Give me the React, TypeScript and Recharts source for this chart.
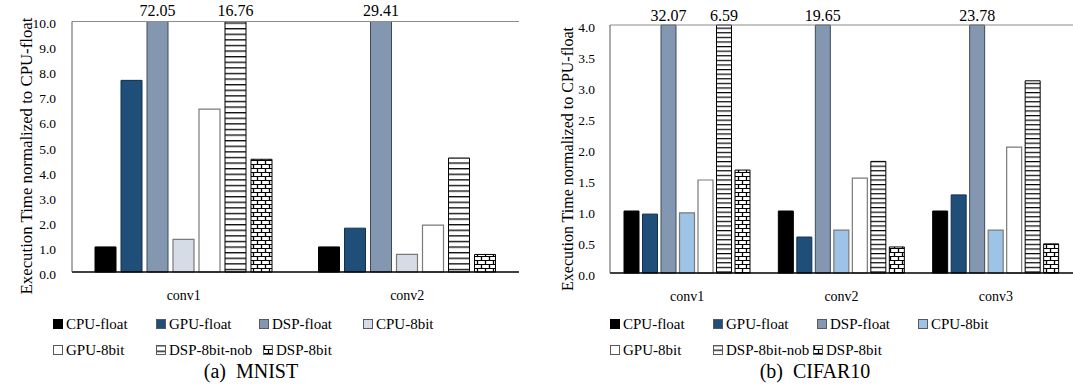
import React from 'react';
import { BarChart, Bar, XAxis, YAxis, LabelList, ReferenceLine } from 'recharts';

// ---------- data ----------
const mnistCategories = ['conv1', 'conv2'];
const mnistCpuFloat = [1.0, 1.0];
const mnistGpuFloat = [7.65, 1.75];
const mnistDspFloat = [72.05, 29.41];
const mnistCpu8 = [1.3, 0.7];
const mnistGpu8 = [6.5, 1.87];
const mnistDspNob = [16.76, 4.55];
const mnistDsp8 = [4.5, 0.7];
const mnistTicks = [0, 1, 2, 3, 4, 5, 6, 7, 8, 9, 10];

const cifarCategories = ['conv1', 'conv2', 'conv3'];
const cifarCpuFloat = [1.0, 1.0, 1.0];
const cifarGpuFloat = [0.95, 0.58, 1.26];
const cifarDspFloat = [32.07, 19.65, 23.78];
const cifarCpu8 = [0.97, 0.69, 0.69];
const cifarGpu8 = [1.5, 1.53, 2.03];
const cifarDspNob = [6.59, 1.8, 3.1];
const cifarDsp8 = [1.66, 0.42, 0.47];
const cifarTicks = [0, 0.5, 1, 1.5, 2, 2.5, 3, 3.5, 4];

const seriesNames = ['CPU-float', 'GPU-float', 'DSP-float', 'CPU-8bit', 'GPU-8bit', 'DSP-8bit-nob', 'DSP-8bit'];
const seriesKeys = ['cpuFloat', 'gpuFloat', 'dspFloat', 'cpu8', 'gpu8', 'dspNob', 'dsp8'];

const FONT = "'Liberation Serif', 'Times New Roman', serif";

type SeriesStyle = { fill: string; stroke: string; sw: number };

const mnistStyles: SeriesStyle[] = [
  { fill: '#000000', stroke: '#000000', sw: 1 },
  { fill: '#1f4e79', stroke: '#10304d', sw: 1 },
  { fill: '#8497b0', stroke: '#3f4a58', sw: 1 },
  { fill: '#d6dce5', stroke: '#7a7a7a', sw: 1.2 },
  { fill: '#ffffff', stroke: '#7a7a7a', sw: 1.2 },
  { fill: 'url(#nobA)', stroke: '#000000', sw: 1 },
  { fill: 'url(#brickA)', stroke: '#000000', sw: 1 },
];
const cifarStyles: SeriesStyle[] = [
  { fill: '#000000', stroke: '#000000', sw: 1 },
  { fill: '#1f4e79', stroke: '#10304d', sw: 1 },
  { fill: '#8497b0', stroke: '#3f4a58', sw: 1 },
  { fill: '#9dc3e6', stroke: '#7a7a7a', sw: 1.2 },
  { fill: '#ffffff', stroke: '#7a7a7a', sw: 1.2 },
  { fill: 'url(#nobB)', stroke: '#000000', sw: 1 },
  { fill: 'url(#brickB)', stroke: '#000000', sw: 1 },
];

function buildRows(categories: string[], cols: number[][], max: number) {
  return categories.map((c, i) => {
    const row: Record<string, any> = { name: c };
    seriesKeys.forEach((k, j) => {
      row[k] = cols[j][i];
      row[k + 'Shown'] = Math.min(cols[j][i], max);
    });
    return row;
  });
}

const mnistRows = buildRows(
  mnistCategories,
  [mnistCpuFloat, mnistGpuFloat, mnistDspFloat, mnistCpu8, mnistGpu8, mnistDspNob, mnistDsp8],
  10
);
const cifarRows = buildRows(
  cifarCategories,
  [cifarCpuFloat, cifarGpuFloat, cifarDspFloat, cifarCpu8, cifarGpu8, cifarDspNob, cifarDsp8],
  4
);

type PanelProps = {
  left: number;
  width: number;
  height: number;
  rows: Record<string, any>[];
  styles: SeriesStyle[];
  max: number;
  ticks: number[];
  margin: { top: number; right: number; bottom: number; left: number };
  yWidth: number;
  barSize: number;
  barGap: number;
  titleX: number;
  titleY: number;
  titleSize: number;
  labelGap: number;
  tickMargin: number;
  rightBorder: boolean;
  legendX: number[][];
  caption: string;
  captionX: number;
};

const textStyle = { fontFamily: FONT };

function Panel(p: PanelProps) {
  const renderValueLabel = (props: any) => {
    const { x, y, width, value } = props;
    if (value == null || value <= p.max) return null;
    return (
      <text
        x={Number(x) + Number(width) / 2}
        y={Number(y) - p.labelGap}
        textAnchor="middle"
        style={{ fontFamily: FONT, fontSize: 16 }}
        fill="#000"
      >
        {Number(value).toFixed(2)}
      </text>
    );
  };
  const renderTitle = () => (
    <text
      x={p.titleX}
      y={p.titleY}
      transform={`rotate(-90, ${p.titleX}, ${p.titleY})`}
      textAnchor="middle"
      style={{ fontFamily: FONT, fontSize: p.titleSize }}
      fill="#000"
    >
      Execution Time normalized to CPU-float
    </text>
  );
  return (
    <div style={{ position: 'absolute', left: p.left, top: 0, width: p.width, height: 389, fontFamily: FONT }}>
      <BarChart
        width={p.width}
        height={p.height}
        data={p.rows}
        margin={p.margin}
        barSize={p.barSize}
        barGap={p.barGap}
        style={{ fontFamily: FONT }}
      >
        <XAxis
          dataKey="name"
          tickLine={false}
          tickSize={0}
          tickMargin={18}
          height={30}
          axisLine={{ stroke: '#000', strokeWidth: 1.5 }}
          tick={{ fontSize: 14, fill: '#000', style: textStyle }}
        />
        <YAxis
          domain={[0, p.max]}
          ticks={p.ticks}
          interval={0}
          width={p.yWidth}
          tickLine={false}
          tickSize={0}
          tickMargin={p.tickMargin}
          tickFormatter={(v: number) => v.toFixed(1)}
          axisLine={{ stroke: '#595959', strokeWidth: 1 }}
          tick={{ fontSize: 13.5, fill: '#000', dy: 2, style: textStyle }}
          label={renderTitle}
        />
        {p.rightBorder && (
          <YAxis
            yAxisId="r"
            orientation="right"
            domain={[0, p.max]}
            width={0}
            tick={false}
            tickLine={false}
            axisLine={{ stroke: '#8c8c8c', strokeWidth: 1 }}
          />
        )}
        {seriesKeys.map((k, j) => (
          <Bar
            key={k}
            dataKey={k + 'Shown'}
            name={seriesNames[j]}
            fill={p.styles[j].fill}
            stroke={p.styles[j].stroke}
            strokeWidth={p.styles[j].sw}
            isAnimationActive={false}
          >
            <LabelList dataKey={k} content={renderValueLabel} />
          </Bar>
        ))}
        <ReferenceLine y={p.max} stroke="#8c8c8c" strokeWidth={1} />
      </BarChart>
      {p.legendX.map((rowXs, r) =>
        rowXs.map((lx, c) => {
          const idx = r * 4 + c;
          const st = p.styles[idx];
          return (
            <div
              key={idx}
              style={{
                position: 'absolute',
                left: lx,
                top: 315 + r * 26,
                height: 18,
                display: 'flex',
                alignItems: 'center',
                fontFamily: FONT,
                fontSize: 15,
                color: '#000',
                whiteSpace: 'nowrap',
              }}
            >
              <svg width={10} height={10} style={{ marginRight: 3 }}>
                <rect x={0.5} y={0.5} width={9} height={9} fill={st.fill} stroke={idx === 0 ? '#000' : '#595959'} strokeWidth={1} />
              </svg>
              {seriesNames[idx]}
            </div>
          );
        })
      )}
      <div
        style={{
          position: 'absolute',
          left: p.captionX - 100,
          width: 200,
          top: 360,
          textAlign: 'center',
          fontFamily: FONT,
          fontSize: 20,
          color: '#000',
          whiteSpace: 'pre',
        }}
      >
        {p.caption}
      </div>
    </div>
  );
}

export default function App() {
  return (
    <div style={{ position: 'absolute', left: 0, top: 0, width: 1073, height: 389, background: '#fff', overflow: 'hidden', fontFamily: FONT }}>
      <svg width={0} height={0} style={{ position: 'absolute' }}>
        <defs>
          <pattern id="nobA" patternUnits="userSpaceOnUse" width={6} height={5.6}>
            <rect width={6} height={5.6} fill="#fff" />
            <line x1={0} x2={6} y1={0.7} y2={0.7} stroke="#000" strokeWidth={1.3} />
          </pattern>
          <pattern id="nobB" patternUnits="userSpaceOnUse" width={6} height={4.6}>
            <rect width={6} height={4.6} fill="#fff" />
            <line x1={0} x2={6} y1={0.6} y2={0.6} stroke="#000" strokeWidth={1.2} />
          </pattern>
          <pattern id="brickA" patternUnits="userSpaceOnUse" width={8} height={8}>
            <rect width={8} height={8} fill="#fff" />
            <line x1={0} x2={8} y1={0.5} y2={0.5} stroke="#000" strokeWidth={1} />
            <line x1={0} x2={8} y1={4.5} y2={4.5} stroke="#000" strokeWidth={1} />
            <line x1={1.5} x2={1.5} y1={0} y2={4} stroke="#000" strokeWidth={1.3} />
            <line x1={5.5} x2={5.5} y1={4} y2={8} stroke="#000" strokeWidth={1.3} />
          </pattern>
          <pattern id="brickB" patternUnits="userSpaceOnUse" width={8} height={8}>
            <rect width={8} height={8} fill="#fff" />
            <line x1={0} x2={8} y1={0.5} y2={0.5} stroke="#000" strokeWidth={1} />
            <line x1={0} x2={8} y1={4.5} y2={4.5} stroke="#000" strokeWidth={1} />
            <line x1={1.5} x2={1.5} y1={0} y2={4} stroke="#000" strokeWidth={1.3} />
            <line x1={5.5} x2={5.5} y1={4} y2={8} stroke="#000" strokeWidth={1.3} />
          </pattern>
        </defs>
      </svg>
      <Panel
        left={0}
        width={540}
        height={310}
        rows={mnistRows}
        styles={mnistStyles}
        max={10}
        ticks={mnistTicks}
        margin={{ top: 21.5, right: 21, bottom: 8, left: 0 }}
        yWidth={72}
        barSize={21}
        barGap={5}
        titleX={32}
        titleY={156}
        titleSize={16.8}
        labelGap={5.5}
        tickMargin={16}
        rightBorder={true}
        legendX={[[53, 156, 259, 363], [53, 156, 263]]}
        caption={'(a)  MNIST'}
        captionX={251}
      />
      <Panel
        left={537}
        width={536}
        height={310}
        rows={cifarRows}
        styles={cifarStyles}
        max={4}
        ticks={cifarTicks}
        margin={{ top: 25, right: 0, bottom: 7, left: 0 }}
        yWidth={73}
        barSize={15}
        barGap={3.5}
        titleX={36}
        titleY={159}
        titleSize={16}
        labelGap={4.5}
        tickMargin={15}
        rightBorder={false}
        legendX={[[73, 176, 280, 381], [73, 176, 276]]}
        caption={'(b)  CIFAR10'}
        captionX={278}
      />
    </div>
  );
}
